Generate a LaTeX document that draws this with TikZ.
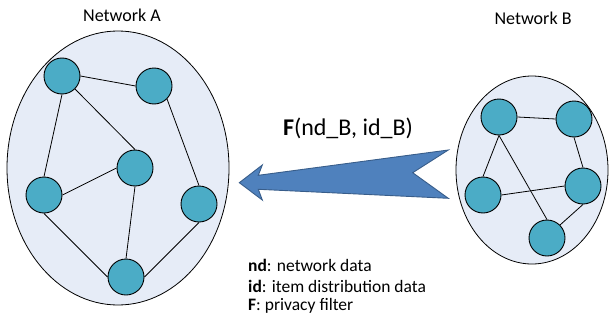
\documentclass[tikz,border=0pt]{standalone}
\usepackage{fontspec}
\setmainfont{Carlito}
\usetikzlibrary{shapes.geometric}
\definecolor{netbg}{HTML}{E6ECF7}
\definecolor{nodefill}{HTML}{4BACC6}
\definecolor{arrowfill}{HTML}{4F81BD}
\definecolor{arrowline}{HTML}{385D8A}
\begin{document}
\begin{tikzpicture}[x=1pt,y=-1pt,
  netarea/.style={ellipse, draw=black, line width=0.8pt, fill=netbg, inner sep=0pt},
  peer/.style={circle, draw=black, line width=0.9pt, fill=nodefill, minimum size=36pt, inner sep=0pt},
  link/.style={draw=black, line width=0.8pt},
  netlabel/.style={font=\fontsize{18}{22}\selectfont, inner sep=0pt},
  legend/.style={font=\fontsize{17.5}{21}\selectfont, inner sep=0pt, anchor=west}]
\useasboundingbox (0,0) rectangle (609,321);
% network areas
\node[netarea, minimum width=222pt, minimum height=274pt] (netA) at (118,168) {};
\node[netarea, minimum width=152pt, minimum height=188pt] (netB) at (532,170) {};
\node[netlabel] (labA) at (122,15) {Network A};
\node[netlabel] (labB) at (533,18) {Network B};
% network A nodes
\node[peer] (a1) at (62,76) {};
\node[peer] (a2) at (154,86) {};
\node[peer] (a3) at (135,168) {};
\node[peer] (a4) at (44,195) {};
\node[peer] (a5) at (199,204) {};
\node[peer] (a6) at (126,277) {};
\draw[link] (a1.east) -- (a2.west);
\draw[link] (a1.south) -- (a4.north);
\draw[link] (a1.south east) -- (a3.north);
\draw[link] (a2.south east) -- (a5.north);
\draw[link] (a4.east) -- (a3.west);
\draw[link] (a3.south) -- (a6.north);
\draw[link] (a4.south) -- (a6.west);
\draw[link] (a5.south) -- (a6.east);
% network B nodes
\node[peer] (b1) at (499,117) {};
\node[peer] (b2) at (574,119) {};
\node[peer] (b3) at (483,195) {};
\node[peer] (b4) at (583,186) {};
\node[peer] (b5) at (547,238) {};
\draw[link] (b1.east) -- (b2.west);
\draw[link] (b1.south) -- (b3.north);
\draw[link] (b1.south) -- (b5.north);
\draw[link] (b2.south) -- (b4.north);
\draw[link] (b3.east) -- (b4.west);
\draw[link] (b4.south) -- (b5.north east);
% big arrow
\draw[fill=arrowfill, draw=arrowline, line width=0.9pt, line join=miter]
  (239.3,182.7) -- (262.3,165) -- (258.3,175.3) -- (448.3,150) -- (412.7,172.7)
  -- (448.3,198.3) -- (258.3,189.3) -- (262.3,200) -- cycle;
\node[font=\fontsize{24}{28}\selectfont, inner sep=0pt] (flabel) at (348,128) {\textbf{F}(nd\_B, id\_B)};
% legend
\node[legend] (l1) at (248,265) {\textbf{nd}: network data};
\node[legend] (l2) at (248,286) {\textbf{id}: item distribution data};
\node[legend] (l3) at (248,306) {\textbf{F}: privacy filter};
\end{tikzpicture}
\end{document}
